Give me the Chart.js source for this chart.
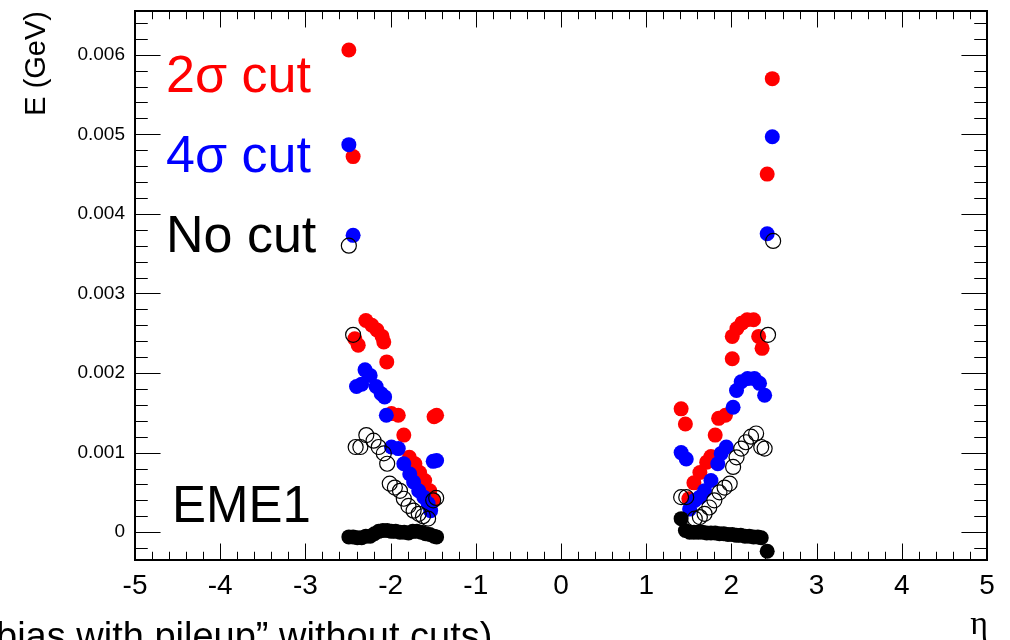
<!DOCTYPE html>
<html>
<head>
<meta charset="utf-8">
<script src="https://cdn.jsdelivr.net/npm/chart.js@4.4.1/dist/chart.umd.min.js"></script>
<style>
html,body{margin:0;padding:0;background:#fff;}
canvas{display:block;}
</style>
</head>
<body>
<canvas id="c" width="1010" height="640"></canvas>
<script>
// ---- data ----
const etaRed = [-2.49,-2.44,-2.42,-2.38,-2.29,-2.22,-2.16,-2.10,-2.08,-2.045,-1.99,-1.91,-1.845,-1.78,-1.715,-1.66,-1.60,-1.54,-1.50,-1.49,-1.46,
                1.41,1.46,1.50,1.56,1.63,1.71,1.76,1.81,1.85,1.93,2.01,2.01,2.065,2.125,2.185,2.26,2.32,2.36,2.42,2.48];
const eRed   = [0.00606,0.00472,0.00243,0.00235,0.00266,0.00260,0.00254,0.00246,0.00239,0.00214,0.00149,0.00147,0.00122,0.00094,0.00086,0.00075,0.00065,0.00052,0.00040,0.00145,0.00147,
                0.00155,0.00136,0.00042,0.00062,0.00075,0.00088,0.00095,0.00122,0.00143,0.00147,0.00218,0.00246,0.00256,0.00263,0.00267,0.00267,0.00246,0.00231,0.00450,0.00570];

const etaBlue = [-2.49,-2.44,-2.40,-2.34,-2.30,-2.24,-2.17,-2.11,-2.07,-2.05,-1.99,-1.91,-1.845,-1.775,-1.73,-1.67,-1.61,-1.56,-1.53,-1.50,-1.46,
                 1.41,1.47,1.51,1.57,1.63,1.685,1.76,1.84,1.88,1.94,2.02,2.06,2.115,2.19,2.27,2.33,2.39,2.42,2.48];
const eBlue   = [0.00487,0.00373,0.00183,0.00186,0.00204,0.00197,0.00183,0.00174,0.00170,0.00147,0.00107,0.00105,0.00086,0.00073,0.00063,0.00052,0.00044,0.00036,0.00027,0.00089,0.00090,
                 0.00100,0.00092,0.00029,0.00040,0.00044,0.00052,0.00065,0.00086,0.00099,0.00107,0.00157,0.00178,0.00189,0.00193,0.00193,0.00187,0.00172,0.00375,0.00497];

const etaNoCut = [-2.49,-2.44,-2.41,-2.355,-2.285,-2.20,-2.14,-2.08,-2.04,-2.01,-1.95,-1.89,-1.845,-1.79,-1.73,-1.67,-1.62,-1.56,-1.50,-1.465,
                  1.41,1.47,1.57,1.63,1.685,1.74,1.80,1.86,1.92,1.98,2.02,2.06,2.115,2.17,2.23,2.29,2.35,2.39,2.43,2.49];
const eNoCut   = [0.00360,0.00248,0.00107,0.00107,0.00122,0.00115,0.00107,0.00099,0.00086,0.00061,0.00056,0.00052,0.00042,0.00033,0.00027,0.00023,0.00020,0.00017,0.00040,0.00043,
                  0.00044,0.00044,0.00017,0.00019,0.00023,0.00031,0.00040,0.00050,0.00056,0.00061,0.00082,0.00094,0.00105,0.00113,0.00120,0.00124,0.00107,0.00105,0.00248,0.00366];

const etaFilled = [-2.49,-2.44,-2.39,-2.34,-2.29,-2.24,-2.19,-2.14,-2.09,-2.04,-1.99,-1.94,-1.89,-1.84,-1.79,-1.74,-1.69,-1.64,-1.59,-1.54,-1.49,-1.46,
                   1.41,1.46,1.51,1.56,1.61,1.66,1.71,1.76,1.81,1.86,1.91,1.96,2.01,2.06,2.11,2.16,2.21,2.26,2.31,2.35,2.42];
const eFilled   = [-0.00006,-0.00006,-0.00007,-0.00007,-0.00005,-0.00005,-0.00002,0.00001,0.00002,0.00002,0.00001,0.00001,0.0,0.0,-0.00001,0.00001,0.00001,0.0,-0.00002,-0.00003,-0.00005,-0.00006,
                   0.00017,0.00002,0.0,0.0,0.0,0.0,-0.00001,-0.00001,-0.00001,-0.00002,-0.00002,-0.00003,-0.00003,-0.00004,-0.00004,-0.00005,-0.00005,-0.00006,-0.00006,-0.00007,-0.00024];

const xTickVals   = [-5,-4,-3,-2,-1,0,1,2,3,4,5];
const xTickLabels = ["-5","-4","-3","-2","-1","0","1","2","3","4","5"];
const yTickVals   = [0,0.001,0.002,0.003,0.004,0.005,0.006];
const yTickLabels = ["0","0.001","0.002","0.003","0.004","0.005","0.006"];

const legendTexts = ["2\u03c3 cut","4\u03c3 cut","No cut"];
const panelLabel  = "EME1";
const xTitle = "\u03b7";
const yTitle = "E (GeV)";
const footText = "bias with pileup\u201d without cuts)";

// ---- chart ----
const FONT = "'Liberation Sans', Arial, Helvetica, sans-serif";
const pts = (xs, ys) => xs.map((x, i) => ({x: x, y: ys[i]}));

const frameTicks = {
  id: 'frameTicks',
  afterDraw(chart) {
    const ctx = chart.ctx, a = chart.chartArea;
    const xs = chart.scales.x, ys = chart.scales.y;
    ctx.save();
    ctx.strokeStyle = '#000';
    ctx.lineWidth = 1;
    const h = a.bottom - a.top, w = a.right - a.left;
    const xMaj = 0.03 * h, xMin = xMaj / 2;
    const yMaj = 0.03 * w, yMin = yMaj / 2;
    ctx.beginPath();
    for (let i = 0; i <= 50; i++) {
      const v = -5 + i * 0.2;
      const px = Math.round(xs.getPixelForValue(v)) + 0.5;
      const len = (i % 5 === 0) ? xMaj : xMin;
      ctx.moveTo(px, a.bottom); ctx.lineTo(px, a.bottom - len);
      ctx.moveTo(px, a.top); ctx.lineTo(px, a.top + len);
    }
    for (let i = -1; i <= 32; i++) {
      const v = i * 0.0002;
      if (v < ys.min || v > ys.max) continue;
      const py = Math.round(ys.getPixelForValue(v)) + 0.5;
      const len = (i % 5 === 0) ? yMaj : yMin;
      ctx.moveTo(a.left, py); ctx.lineTo(a.left + len, py);
      ctx.moveTo(a.right, py); ctx.lineTo(a.right - len, py);
    }
    ctx.stroke();
    ctx.lineWidth = 2;
    ctx.strokeRect(a.left, a.top, w, h);
    ctx.restore();
  }
};

const texts = {
  id: 'texts',
  afterDraw(chart) {
    const ctx = chart.ctx, a = chart.chartArea;
    ctx.save();
    ctx.textBaseline = 'alphabetic';
    ctx.textAlign = 'left';
    ctx.font = "52px " + FONT;
    const cols = ['#ff0000', '#0000ff', '#000000'];
    const base = [92, 172, 252];
    legendTexts.forEach((t, i) => { ctx.fillStyle = cols[i]; ctx.fillText(t, 166, base[i]); });
    ctx.fillStyle = '#000';
    ctx.font = "51px " + FONT;
    ctx.fillText(panelLabel, 172, 522);
    ctx.font = "34px 'Liberation Serif', 'DejaVu Serif', serif";
    ctx.textAlign = 'right';
    ctx.fillText(xTitle, 988, 634);
    ctx.textAlign = 'left';
    ctx.font = "38px " + FONT;
    ctx.fillText(footText, -4, 649);
    ctx.restore();
  }
};

new Chart(document.getElementById('c'), {
  type: 'scatter',
  data: {
    datasets: [
      {label: 'No cut (open)', data: pts(etaNoCut, eNoCut), order: 1,
       pointStyle: 'circle', pointRadius: 7.5, backgroundColor: 'rgba(0,0,0,0)', borderColor: '#000', pointBorderWidth: 1.2},
      {label: 'filled', data: pts(etaFilled, eFilled), order: 2,
       pointRadius: 7.5, backgroundColor: '#000', borderColor: '#000', pointBorderWidth: 0},
      {label: '4 sigma cut', data: pts(etaBlue, eBlue), order: 3,
       pointRadius: 7.5, backgroundColor: '#0000ff', borderColor: '#0000ff', pointBorderWidth: 0},
      {label: '2 sigma cut', data: pts(etaRed, eRed), order: 4,
       pointRadius: 7.5, backgroundColor: '#ff0000', borderColor: '#ff0000', pointBorderWidth: 0}
    ]
  },
  options: {
    responsive: false,
    animation: false,
    devicePixelRatio: 1,
    layout: {padding: {left: 0, right: 23, top: 11, bottom: 0}},
    plugins: {legend: {display: false}, tooltip: {enabled: false}},
    scales: {
      x: {
        type: 'linear', min: -5, max: 5,
        afterBuildTicks: s => { s.ticks = xTickVals.map(v => ({value: v})); },
        afterFit: s => { s.height = 80; },
        grid: {display: false, drawTicks: false},
        border: {display: false},
        ticks: {padding: 9, color: '#000', font: {size: 28, family: FONT},
                maxRotation: 0, autoSkip: false,
                callback: (v, i) => xTickLabels[i]}
      },
      y: {
        type: 'linear', min: -0.00035, max: 0.00655,
        afterBuildTicks: s => { s.ticks = yTickVals.map(v => ({value: v})); },
        afterFit: s => { s.width = 135; },
        grid: {display: false, drawTicks: false},
        border: {display: false},
        ticks: {padding: 10, color: '#000', font: {size: 19, family: FONT, lineHeight: 0.1},
                autoSkip: false, callback: (v, i) => yTickLabels[i]},
        title: {display: true, text: yTitle, align: 'end', color: '#000',
                font: {size: 29, family: FONT}, padding: {top: 20, bottom: 0}}
      }
    }
  },
  plugins: [frameTicks, texts]
});
</script>
</body>
</html>
